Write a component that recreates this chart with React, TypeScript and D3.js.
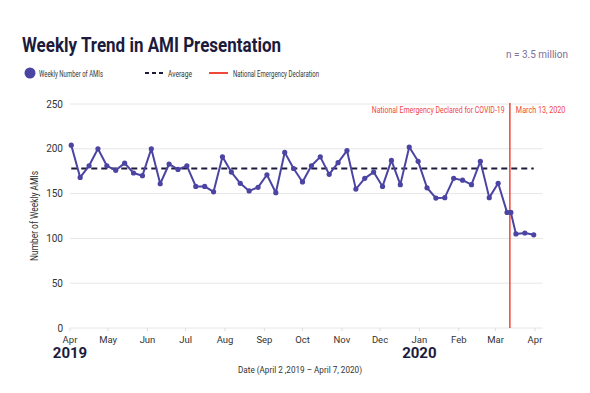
import * as d3 from 'd3';

const weekDates = [
  '2019-04-02', '2019-04-09', '2019-04-16', '2019-04-23', '2019-04-30',
  '2019-05-07', '2019-05-14', '2019-05-21', '2019-05-28',
  '2019-06-04', '2019-06-11', '2019-06-18', '2019-06-25',
  '2019-07-02', '2019-07-09', '2019-07-16', '2019-07-23', '2019-07-30',
  '2019-08-06', '2019-08-13', '2019-08-20', '2019-08-27',
  '2019-09-03', '2019-09-10', '2019-09-17', '2019-09-24',
  '2019-10-01', '2019-10-08', '2019-10-15', '2019-10-22', '2019-10-29',
  '2019-11-05', '2019-11-12', '2019-11-19', '2019-11-26',
  '2019-12-03', '2019-12-10', '2019-12-17', '2019-12-24', '2019-12-31',
  '2020-01-07', '2020-01-14', '2020-01-21', '2020-01-28',
  '2020-02-04', '2020-02-11', '2020-02-18', '2020-02-25',
  '2020-03-03', '2020-03-10', '2020-03-13', '2020-03-17', '2020-03-24', '2020-03-31',
];

const weeklyAmis = [
  204, 168, 181, 200, 181,
  176, 184, 173, 170,
  200, 161, 183, 177,
  181, 158, 158, 152, 191,
  174, 161.5, 153, 157,
  171, 151, 196, 178,
  163, 181, 191, 171.5, 184.5,
  198, 155, 167, 174,
  158, 187, 160, 202, 186,
  156.5, 145, 145.5, 167,
  165, 160, 186, 145.5,
  161.5, 129, 129, 105, 106, 104,
];

const averageAmis = 178;
const emergencyDate = '2020-03-13';
const yTicks = [0, 50, 100, 150, 200, 250];
const yearLabels = [
  { date: '2019-04-01', label: '2019' },
  { date: '2020-01-01', label: '2020' },
];

const parse = d3.timeParse('%Y-%m-%d');
const FONT = 'Roboto, sans-serif';
const PURPLE = '#4b44a2';
const RED = '#f0463c';
const NAVY = '#1c1b3c';

export default function App() {
  const width = 590;
  const height = 393;
  const marginLeft = 70;
  const marginRight = 55;
  const marginTop = 104;
  const marginBottom = 65;

  const x = d3
    .scaleTime()
    .domain([parse('2019-04-01')!, parse('2020-04-01')!])
    .range([marginLeft, width - marginRight]);
  const y = d3
    .scaleLinear()
    .domain([0, 250])
    .range([height - marginBottom, marginTop]);

  const data = weekDates.map((d, i) => ({ date: parse(d)!, value: weeklyAmis[i] }));
  const line = d3
    .line<{ date: Date; value: number }>()
    .x((d) => x(d.date))
    .y((d) => y(d.value));

  const months = d3.timeMonth.range(parse('2019-04-01')!, parse('2020-04-02')!);
  const fmt = d3.timeFormat('%b');
  const ex = x(parse(emergencyDate)!) - 1;
  const gridRight = x(parse('2020-04-07')!);

  return (
    <svg
      width={width}
      height={height}
      style={{ position: 'absolute', left: 0, top: 0, background: '#fff' }}
      fontFamily={FONT}
    >
      {/* title */}
      <text x={22} y={52} fontSize={21} fontWeight={700} fill={NAVY} textLength={259} lengthAdjust='spacingAndGlyphs'>
        Weekly Trend in AMI Presentation
      </text>
      <text x={568} y={58} fontSize={10} fill='#806f96' textAnchor='end'>
        n = 3.5 million
      </text>

      {/* legend */}
      <circle cx={30} cy={73} r={5.5} fill={PURPLE} />
      <text x={39} y={76.5} fontSize={9.5} fill='#333' textLength={64} lengthAdjust='spacingAndGlyphs'>
        Weekly Number of AMIs
      </text>
      <line x1={145} x2={164} y1={73} y2={73} stroke={NAVY} strokeWidth={2} strokeDasharray='4,3' />
      <text x={168} y={76.5} fontSize={9.5} fill='#333' textLength={24} lengthAdjust='spacingAndGlyphs'>
        Average
      </text>
      <line x1={209} x2={228} y1={73} y2={73} stroke={RED} strokeWidth={2} />
      <text x={233} y={76.5} fontSize={9.5} fill='#333' textLength={86} lengthAdjust='spacingAndGlyphs'>
        National Emergency Declaration
      </text>

      {/* grid + y axis */}
      {yTicks.map((t) => (
        <g key={t}>
          <line x1={marginLeft} x2={gridRight} y1={y(t)} y2={y(t)} stroke='#e6e6e6' strokeWidth={1} />
          <text x={63} y={y(t) + 3.5} fontSize={10} fill='#333' textAnchor='end'>
            {t}
          </text>
        </g>
      ))}
      <text
        transform={`translate(38, ${y(125)}) rotate(-90)`}
        fontSize={10}
        fill='#333'
        textAnchor='middle'
        textLength={90}
        lengthAdjust='spacingAndGlyphs'
      >
        Number of Weekly AMIs
      </text>

      {/* x axis */}
      {months.map((m) => (
        <g key={m.toISOString()}>
          <line x1={x(m)} x2={x(m)} y1={y(0)} y2={y(0) + 3} stroke='#ddd' />
          <text x={x(m)} y={y(0) + 15} fontSize={9.5} fill='#333' textAnchor='middle'>
            {fmt(m)}
          </text>
        </g>
      ))}
      {yearLabels.map((d) => (
        <text key={d.label} x={x(parse(d.date)!)} y={358} fontSize={15} fontWeight={700} fill={NAVY} textAnchor='middle'>
          {d.label}
        </text>
      ))}
      <text x={300} y={373} fontSize={9.5} fill='#333' textAnchor='middle' textLength={124} lengthAdjust='spacingAndGlyphs'>
        Date (April 2 ,2019 – April 7, 2020)
      </text>

      {/* average */}
      <line
        x1={x(data[0].date)}
        x2={x(data[data.length - 1].date)}
        y1={y(averageAmis)}
        y2={y(averageAmis)}
        stroke={NAVY}
        strokeWidth={2}
        strokeDasharray='6,4'
      />

      {/* emergency */}
      <line x1={ex} x2={ex} y1={103} y2={y(0)} stroke={RED} strokeWidth={1.5} />
      <text
        transform={`translate(${ex - 138}, 113) scale(0.75, 1)`}
        fontSize={9}
        fill={RED}
        textLength={177}
        lengthAdjust='spacingAndGlyphs'
      >
        National Emergency Declared for COVID-19
      </text>
      <text
        transform={`translate(${ex + 6}, 113) scale(0.9, 1)`}
        fontSize={9}
        fill={RED}
        textLength={55}
        lengthAdjust='spacingAndGlyphs'
      >
        March 13, 2020
      </text>

      {/* series */}
      <path d={line(data) ?? ''} fill='none' stroke={PURPLE} strokeWidth={2} strokeLinejoin='round' />
      {data.map((d, i) => (
        <circle key={i} cx={x(d.date)} cy={y(d.value)} r={2.6} fill={PURPLE} />
      ))}
    </svg>
  );
}
